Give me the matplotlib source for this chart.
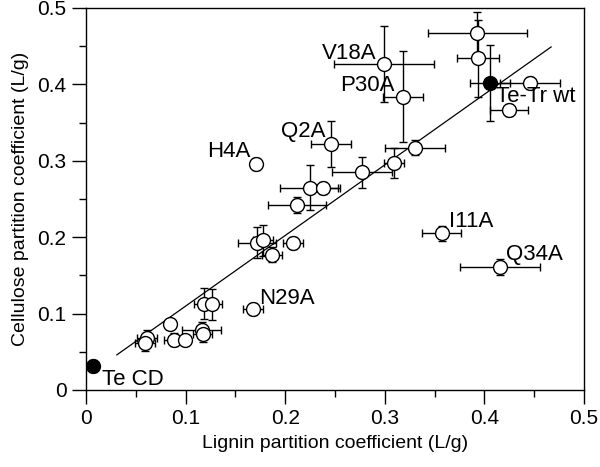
import matplotlib
matplotlib.use("Agg")
import matplotlib.pyplot as plt
from matplotlib.ticker import MultipleLocator

plt.rcParams['font.family'] = ['Liberation Sans', 'DejaVu Sans']

# Open circles: mutants
lig = [0.393, 0.394, 0.299, 0.318, 0.446, 0.425, 0.330, 0.309, 0.277, 0.246,
       0.225, 0.238, 0.212, 0.171, 0.357, 0.416, 0.172, 0.178, 0.208, 0.187,
       0.168, 0.118, 0.127, 0.084, 0.116, 0.117, 0.061, 0.059, 0.088, 0.099]
cel = [0.467, 0.434, 0.427, 0.384, 0.402, 0.366, 0.317, 0.297, 0.285, 0.322,
       0.265, 0.264, 0.242, 0.296, 0.205, 0.161, 0.193, 0.196, 0.192, 0.177,
       0.106, 0.113, 0.112, 0.087, 0.079, 0.073, 0.068, 0.061, 0.066, 0.066]
lig_err = [0.05, 0.021, 0.05, 0.02, 0.03, 0.019, 0.03, 0.01, 0.03, 0.02,
           0.03, 0.015, 0.029, 0.0, 0.02, 0.04, 0.019, 0.01, 0.01, 0.01,
           0.01, 0.01, 0.01, 0.0, 0.02, 0.01, 0.01, 0.01, 0.01, 0.0]
cel_err = [0.028, 0.05, 0.05, 0.06, 0.008, 0.008, 0.01, 0.02, 0.02, 0.03,
           0.03, 0.008, 0.01, 0.008, 0.01, 0.01, 0.02, 0.02, 0.008, 0.01,
           0.008, 0.02, 0.02, 0.0, 0.01, 0.01, 0.01, 0.01, 0.008, 0.0]

# Filled circles: reference proteins
ref_lig = [0.406, 0.007]
ref_cel = [0.402, 0.031]
ref_lig_err = [0.02, 0.0]
ref_cel_err = [0.05, 0.008]

# Regression line end points
line_lig = [0.031, 0.467]
line_cel = [0.046, 0.449]

# Labels
label_text = ["V18A", "P30A", "Q2A", "H4A", "Te-Tr wt", "I11A", "Q34A", "N29A", "Te CD"]
label_x = [0.292, 0.310, 0.240, 0.165, 0.412, 0.364, 0.422, 0.174, 0.016]
label_y = [0.441, 0.399, 0.338, 0.312, 0.384, 0.220, 0.177, 0.120, 0.014]
label_ha = ["right", "right", "right", "right", "left", "left", "left", "left", "left"]

fig = plt.figure(figsize=(6.0, 4.67), dpi=100)
ax = fig.add_axes([0.1433, 0.1649, 0.83, 0.818])

ax.plot(line_lig, line_cel, color='black', lw=0.9, zorder=2)

ax.errorbar(lig, cel, xerr=lig_err, yerr=cel_err, fmt='o', ms=10,
            mfc='white', mec='black', mew=1.0, ecolor='black', elinewidth=1.0,
            capsize=3, capthick=1.0, zorder=3)
ax.errorbar(ref_lig, ref_cel, xerr=ref_lig_err, yerr=ref_cel_err, fmt='o', ms=10,
            mfc='black', mec='black', mew=1.0, ecolor='black', elinewidth=1.0,
            capsize=3, capthick=1.0, zorder=4)

for t, x, y, ha in zip(label_text, label_x, label_y, label_ha):
    ax.text(x, y, t, ha=ha, va='center', fontsize=16, zorder=5)

ax.set_xlim(0, 0.5)
ax.set_ylim(0, 0.5)
ax.xaxis.set_minor_locator(MultipleLocator(0.05))
ax.yaxis.set_minor_locator(MultipleLocator(0.05))
ax.set_xticks([0, 0.1, 0.2, 0.3, 0.4, 0.5])
ax.set_xticklabels(["0", "0.1", "0.2", "0.3", "0.4", "0.5"])
ax.set_yticks([0, 0.1, 0.2, 0.3, 0.4, 0.5])
ax.set_yticklabels(["0", "0.1", "0.2", "0.3", "0.4", "0.5"])
ax.tick_params(which='major', direction='out', length=10, width=1.0, labelsize=15, pad=4)
ax.tick_params(which='minor', direction='out', length=5, width=1.0)
for s in ax.spines.values():
    s.set_linewidth(1.0)

ax.set_xlabel("Lignin partition coefficient (L/g)", fontsize=14, labelpad=5)
ax.set_ylabel("Cellulose partition coefficient (L/g)", fontsize=14, labelpad=6)

fig.savefig("out.png", dpi=100)
